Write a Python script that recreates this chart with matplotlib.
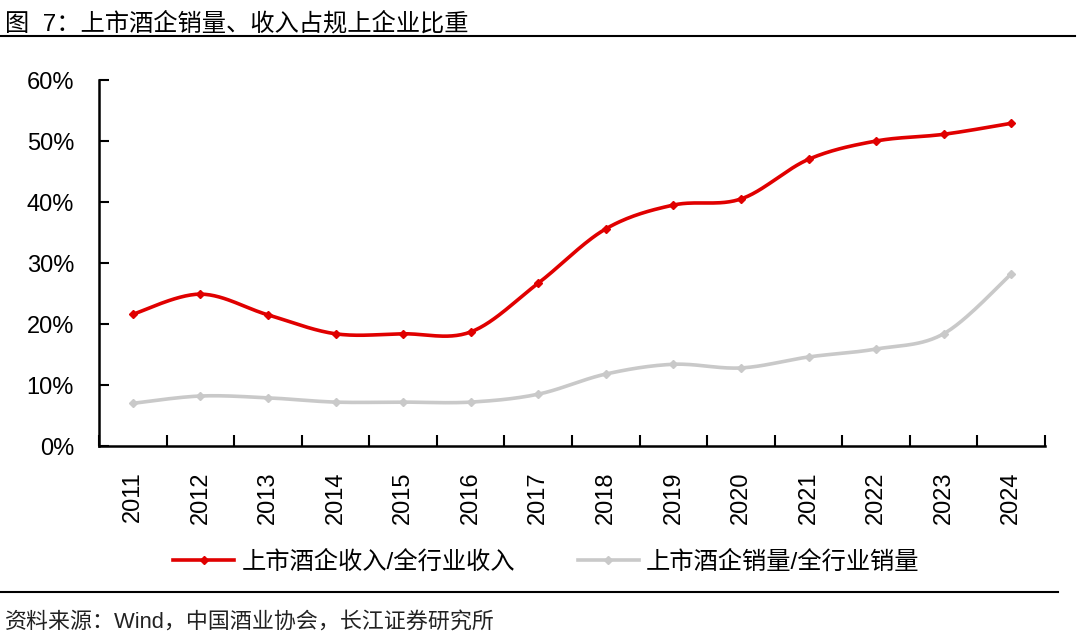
import numpy as np
import matplotlib.pyplot as plt
from matplotlib.lines import Line2D

plt.rcParams['font.family'] = ['Liberation Sans', 'Noto Sans CJK SC', 'DejaVu Sans']

years = ['2011', '2012', '2013', '2014', '2015', '2016', '2017',
         '2018', '2019', '2020', '2021', '2022', '2023', '2024']
revenue_share = [21.6, 24.9, 21.5, 18.4, 18.4, 18.7, 26.7,
                 35.6, 39.5, 40.5, 47.0, 50.0, 51.1, 52.9]
volume_share = [7.0, 8.2, 7.9, 7.2, 7.2, 7.2, 8.5,
                11.8, 13.4, 12.8, 14.6, 15.9, 18.4, 28.2]

red = '#E00000'
grey = '#C9C9C9'


def smooth(x, y, n=30):
    # excel-style smoothed line (bezier through the points)
    x = np.asarray(x, float)
    y = np.asarray(y, float)
    xs, ys = [], []
    for i in range(len(x) - 1):
        p0 = np.array([x[i], y[i]])
        p3 = np.array([x[i + 1], y[i + 1]])
        pm = np.array([x[i - 1], y[i - 1]]) if i > 0 else p0
        pp = np.array([x[i + 2], y[i + 2]]) if i + 2 < len(x) else p3
        c1 = p0 + (p3 - pm) / 6
        c2 = p3 - (pp - p0) / 6
        t = np.linspace(0, 1, n)[:, None]
        pts = ((1 - t) ** 3) * p0 + 3 * ((1 - t) ** 2) * t * c1 + 3 * (1 - t) * t ** 2 * c2 + t ** 3 * p3
        xs.extend(pts[:, 0])
        ys.extend(pts[:, 1])
    return xs, ys


fig = plt.figure(figsize=(10.8, 6.37), dpi=100)
ax = fig.add_axes([0.0917, 0.2998, 0.8759, 0.5746])

x = np.arange(len(years))
for vals, col in [(volume_share, grey), (revenue_share, red)]:
    sx, sy = smooth(x, vals)
    ax.plot(sx, sy, color=col, lw=2.6, solid_capstyle='round', zorder=3)
    ax.plot(x, vals, ls='none', marker='D', ms=4, color=col, zorder=4)

ax.set_xlim(-0.5, len(years) - 0.5)
ax.set_ylim(0, 60)
ax.set_yticks(range(0, 61, 10))
ax.set_yticklabels([f'{v}%' for v in range(0, 61, 10)], fontsize=17)
ax.set_xticks(x)
ax.set_xticklabels(years, rotation=90, fontsize=17)
ax.set_xticks(np.arange(len(years) + 1) - 0.5, minor=True)
ax.tick_params(axis='x', which='major', length=0, pad=18)
ax.tick_params(axis='x', which='minor', direction='in', length=8, width=1.5)
ax.tick_params(axis='y', direction='in', length=7, width=1.5, pad=18)
for s in ['top', 'right']:
    ax.spines[s].set_visible(False)
for s in ['left', 'bottom']:
    ax.spines[s].set_linewidth(1.8)

handles = [Line2D([], [], color=red, lw=2.6, marker='D', ms=4),
           Line2D([], [], color=grey, lw=2.6, marker='D', ms=4)]
fig.legend(handles, ['上市酒企收入/全行业收入', '上市酒企销量/全行业销量'],
           loc='center', bbox_to_anchor=(0.506, 0.118), ncol=2, frameon=False,
           fontsize=17.5, handlelength=2.5, columnspacing=2.6, handletextpad=0.3)

fig.text(0.005, 0.963, '图  7：上市酒企销量、收入占规上企业比重', fontsize=17.5, va='center')
fig.add_artist(Line2D([0.0, 0.995], [0.944, 0.944], color='black', lw=1.5))
fig.add_artist(Line2D([0.0, 0.98], [0.071, 0.071], color='black', lw=1.5))
fig.text(0.005, 0.023, '资料来源：Wind，中国酒业协会，长江证券研究所', fontsize=15.8,
         va='center', color='#222222')

plt.savefig('out.png', dpi=100)
